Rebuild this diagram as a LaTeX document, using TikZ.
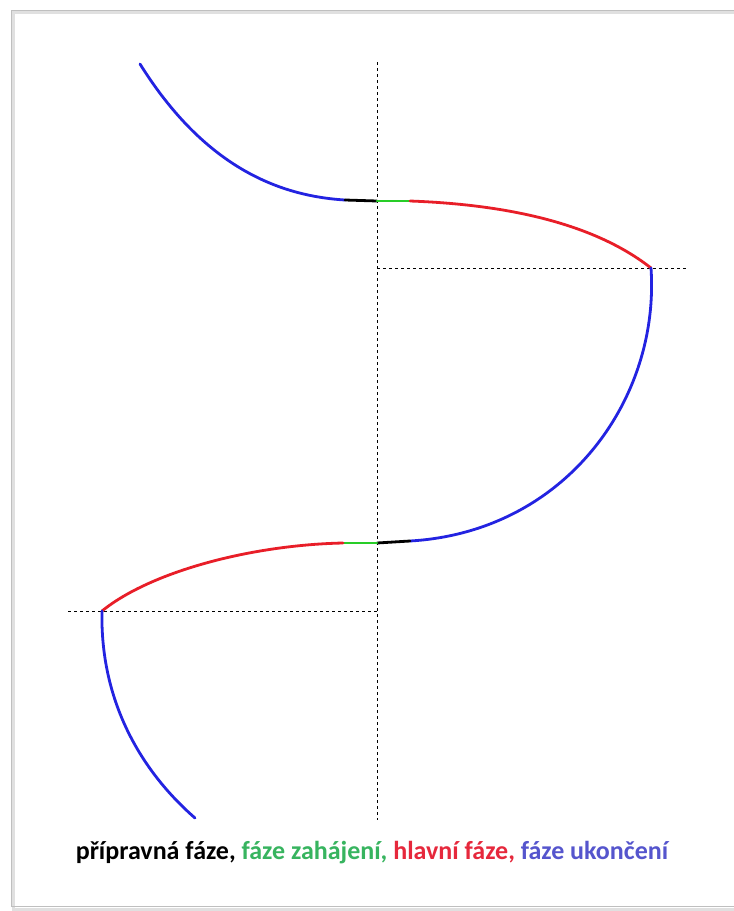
\documentclass[tikz,border=0pt]{standalone}
\usepackage{fontspec}
\setmainfont{Carlito}
\definecolor{cblue}{RGB}{35,35,225}
\definecolor{cred}{RGB}{232,30,40}
\definecolor{cgreen}{RGB}{40,205,40}
\definecolor{tgreen}{RGB}{55,180,95}
\definecolor{tred}{RGB}{230,40,60}
\definecolor{tblue}{RGB}{85,85,205}
\begin{document}
\begin{tikzpicture}[x=1pt,y=-1pt,
  seg/.style={line width=2.8pt,line cap=round},
  guide/.style={black,line width=0.9pt,dash pattern=on 3pt off 3pt}]
\useasboundingbox (0,0) rectangle (734,911);
\fill[white] (0,0) rectangle (734,911);
% frame with shadow
\draw[black!12,line width=3pt] (13,12) rectangle (735,909);
\draw[black!25,line width=1pt] (11,10) rectangle (734,906);
% coordinates
\coordinate (a0) at (140,64);
\coordinate (a1) at (345,200);
\coordinate (a2) at (377,201);
\coordinate (a3) at (410,201);
\coordinate (a4) at (651,268);
\coordinate (b1) at (410,541);
\coordinate (b2) at (377,543);
\coordinate (b3) at (343,543);
\coordinate (b4) at (102,611);
\coordinate (b5) at (195,818);
\coordinate (vt) at (377,62);
\coordinate (vb) at (377,820);
\coordinate (hr) at (688,268);
\coordinate (hl) at (68,611);
\coordinate (vm1) at (377,268);
\coordinate (vm2) at (377,611);
% guides
\draw[guide] (vt) -- (vb);
\draw[guide] (vm1) -- (hr);
\draw[guide] (hl) -- (vm2);
% curves
\draw[seg,cblue] (a0) .. controls (205,168) and (280,196) .. (a1);
\draw[seg,black] (a1) -- (a2);
\draw[seg,cgreen] (a2) -- (a3);
\draw[seg,cred] (a3) .. controls (520,205) and (600,228) .. (a4);
\draw[seg,cblue] (a4) .. controls (660,400) and (565,532) .. (b1);
\draw[seg,black] (b1) -- (b2);
\draw[seg,cgreen] (b2) -- (b3);
\draw[seg,cred] (b3) .. controls (250,545) and (150,572) .. (b4);
\draw[seg,cblue] (b4) .. controls (100,700) and (140,770) .. (b5);
% caption
\node[font=\fontsize{26}{30}\selectfont\bfseries,inner sep=0pt] (cap) at (372,853)
  {přípravná fáze, \textcolor{tgreen}{fáze zahájení,} \textcolor{tred}{hlavní fáze,} \textcolor{tblue}{fáze ukončení}};
\end{tikzpicture}
\end{document}
